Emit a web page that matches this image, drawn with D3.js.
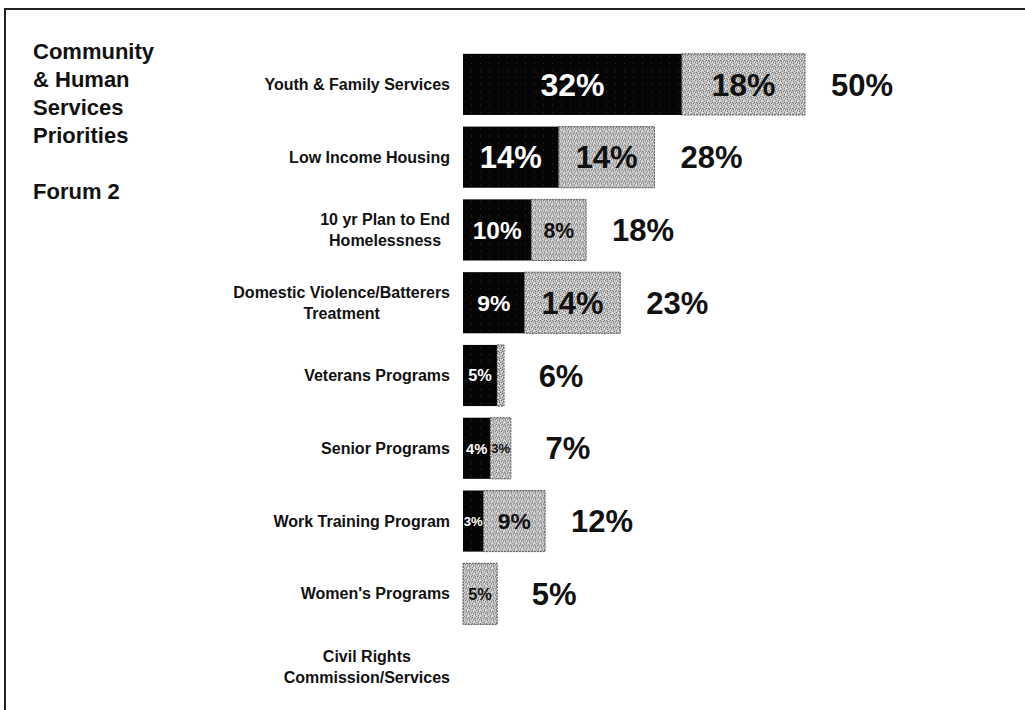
<!DOCTYPE html>
<html>
<head>
<meta charset="utf-8">
<script src="https://cdn.jsdelivr.net/npm/d3@7"></script>
<style>
  body { margin: 0; background: #fff; }
  text { font-family: "Liberation Sans", Arial, sans-serif; font-weight: bold; }
</style>
</head>
<body>
<div id="chart"></div>
<script>
var categories = [
    'Youth & Family Services',
    'Low Income Housing',
    '10 yr Plan to End|Homelessness',
    'Domestic Violence/Batterers|Treatment',
    'Veterans Programs',
    'Senior Programs',
    'Work Training Program',
    "Women's Programs",
    'Civil Rights|Commission/Services'
];
var firstChoice = [32, 14, 10, 9, 5, 4, 3, 0, 0];
var secondChoice = [18, 14, 8, 14, 1, 3, 9, 5, 0];
var titleLines = ['Community', '& Human', 'Services', 'Priorities', '', 'Forum 2'];

var width = 1025,
    height = 710;

var rows = categories.map(function (c, i) {
    return {
        name: c,
        lines: c.split('|'),
        first: firstChoice[i],
        second: secondChoice[i],
        total: firstChoice[i] + secondChoice[i]
    };
});

var svg = d3.select('#chart').append('svg')
    .attr('width', width)
    .attr('height', height);

// dither-ish fills, the original is a scanned printout
var defs = svg.append('defs');

var light = defs.append('pattern')
    .attr('id', 'lightFill')
    .attr('patternUnits', 'userSpaceOnUse')
    .attr('width', 6)
    .attr('height', 6);
light.append('rect').attr('width', 6).attr('height', 6).attr('fill', '#c6c6c6');
[[0, 0], [3, 1], [1, 3], [4, 4], [5, 2], [2, 5], [1, 1], [4, 0]].forEach(function (p) {
    light.append('rect').attr('x', p[0]).attr('y', p[1]).attr('width', 1).attr('height', 1).attr('fill', '#6e6e6e');
});
[[2, 0], [5, 5], [0, 4], [4, 2]].forEach(function (p) {
    light.append('rect').attr('x', p[0]).attr('y', p[1]).attr('width', 1).attr('height', 1).attr('fill', '#f2f2f2');
});

var dark = defs.append('pattern')
    .attr('id', 'darkFill')
    .attr('patternUnits', 'userSpaceOnUse')
    .attr('width', 9)
    .attr('height', 7);
dark.append('rect').attr('width', 9).attr('height', 7).attr('fill', '#050505');
dark.append('rect').attr('x', 3).attr('y', 2).attr('width', 1).attr('height', 1).attr('fill', '#333');

// frame (only top and left edges fall inside the picture)
svg.append('path')
    .attr('d', 'M5,' + height + 'V9H' + width)
    .attr('fill', 'none')
    .attr('stroke', '#222')
    .attr('stroke-width', 2);

// scales
var x = d3.scaleLinear()
    .domain([0, 50])
    .range([463, 805]);

var y = d3.scaleBand()
    .domain(categories)
    .range([48, 703])
    .paddingInner(0.16)
    .paddingOuter(0.08);

var labelSize = d3.scaleLinear()
    .domain([20, 100])
    .range([13, 32])
    .clamp(true);

// title block
svg.append('g')
    .selectAll('text')
    .data(titleLines)
    .enter().append('text')
    .attr('x', 33)
    .attr('y', function (d, i) { return 59 + i * 28; })
    .style('font-size', '22px')
    .attr('fill', '#111')
    .text(function (d) { return d; });

var row = svg.selectAll('g.row')
    .data(rows)
    .enter().append('g')
    .attr('class', 'row')
    .attr('transform', function (d) {
        return 'translate(0,' + y(d.name) + ')';
    });

var bw = y.bandwidth();

// category labels: block right aligned at 450, lines centred inside it
row.each(function (d) {
    var g = d3.select(this);
    var lh = 21;
    var top = bw / 2 - (d.lines.length - 1) * lh / 2;
    var t = g.selectAll('text.cat')
        .data(d.lines)
        .enter().append('text')
        .attr('class', 'cat')
        .attr('y', function (l, i) { return top + i * lh; })
        .attr('dy', '0.35em')
        .attr('text-anchor', 'middle')
        .style('font-size', '16px')
        .attr('fill', '#111')
        .text(function (l) { return l; });
    var maxW = 0;
    t.each(function () { maxW = Math.max(maxW, this.getComputedTextLength()); });
    t.attr('x', 450 - maxW / 2);
});

// first choice segment
row.filter(function (d) { return d.first > 0; })
    .append('rect')
    .attr('x', x(0))
    .attr('y', 0)
    .attr('width', function (d) { return x(d.first) - x(0); })
    .attr('height', bw)
    .attr('fill', 'url(#darkFill)');

// second choice segment
row.filter(function (d) { return d.second > 0; })
    .append('rect')
    .attr('x', function (d) { return x(d.first); })
    .attr('y', 0)
    .attr('width', function (d) { return x(d.first + d.second) - x(d.first); })
    .attr('height', bw)
    .attr('fill', 'url(#lightFill)')
    .attr('stroke', '#555')
    .attr('stroke-width', 1)
    .attr('stroke-dasharray', '2,1');

// labels inside segments
row.filter(function (d) { return d.first > 0; })
    .append('text')
    .attr('x', function (d) { return (x(0) + x(d.first)) / 2; })
    .attr('y', bw / 2)
    .attr('dy', '0.36em')
    .attr('text-anchor', 'middle')
    .attr('fill', '#fff')
    .style('font-size', function (d) { return labelSize(x(d.first) - x(0)) + 'px'; })
    .text(function (d) { return d.first + '%'; });

row.filter(function (d) { return d.second > 1; })
    .append('text')
    .attr('x', function (d) { return (x(d.first) + x(d.first + d.second)) / 2; })
    .attr('y', bw / 2)
    .attr('dy', '0.36em')
    .attr('text-anchor', 'middle')
    .attr('fill', '#111')
    .style('font-size', function (d) { return labelSize(x(d.first + d.second) - x(d.first)) + 'px'; })
    .text(function (d) { return d.second + '%'; });

// totals to the right
row.filter(function (d) { return d.total > 0; })
    .append('text')
    .attr('x', function (d) { return x(d.total) + 57; })
    .attr('y', bw / 2)
    .attr('dy', '0.36em')
    .attr('text-anchor', 'middle')
    .attr('fill', '#111')
    .style('font-size', '31px')
    .text(function (d) { return d.total + '%'; });
</script>
</body>
</html>
